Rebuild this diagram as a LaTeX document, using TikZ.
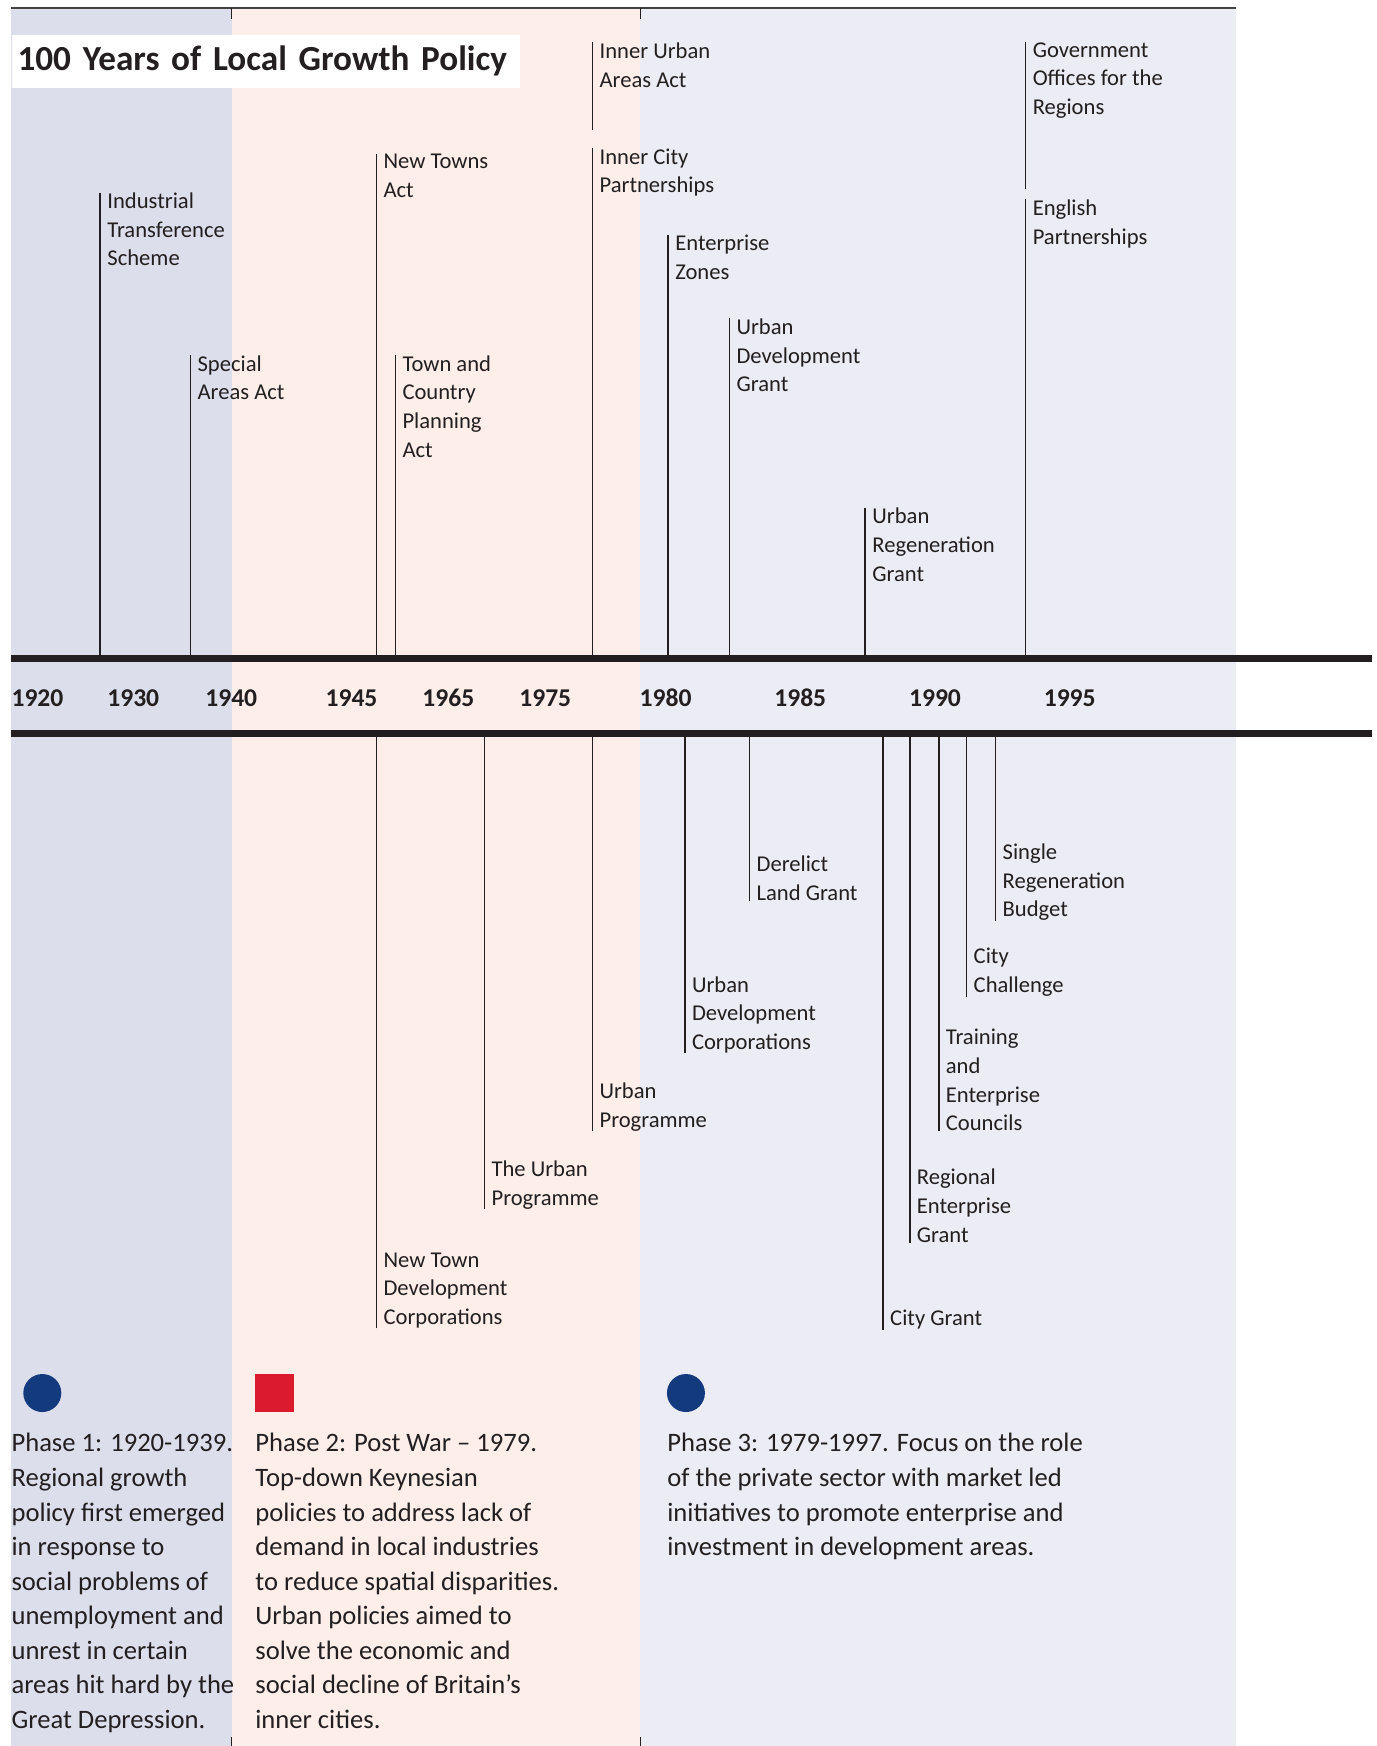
\documentclass[tikz,border=0pt]{standalone}
\usepackage{fontspec}
\setmainfont{Carlito}
\usepackage{xcolor}
\definecolor{bandA}{HTML}{DCDEEB}
\definecolor{bandB}{HTML}{FDEEEA}
\definecolor{bandC}{HTML}{EBECF4}
\definecolor{encre}{HTML}{231F20}
\definecolor{marine}{HTML}{143A7E}
\definecolor{rouge}{HTML}{DC1A2E}
\usetikzlibrary{positioning}
\tikzset{
	evtop/.style={anchor=north west,align=left,inner xsep=3.4pt,inner ysep=0pt,text=encre,font=\fontsize{11.3}{14.3}\selectfont},
	evbot/.style={evtop,anchor=south west},
	pole/.style={encre,line width=0.8pt},
	bar/.style={encre,line width=3.4pt},
	yr/.style={anchor=west,inner sep=0pt,text=encre,font=\fontsize{12.8}{12.8}\selectfont\bfseries},
	phase/.style={anchor=north west,align=left,inner sep=0pt,text=encre,font=\fontsize{13.3}{17.26}\selectfont},
	titre/.style={fill=white,anchor=west,minimum width=254pt,minimum height=26.5pt,text width=248pt,align=left,inner xsep=3pt,inner ysep=0pt,text=encre,font=\fontsize{17.6}{17.6}\selectfont\bfseries},
	dot/.style={circle,fill=marine,minimum size=19pt,inner sep=0pt},
	carre/.style={rectangle,fill=rouge,minimum size=19.4pt,inner sep=0pt}
}
\begin{document}
\begin{tikzpicture}[x=0.5567pt,y=-0.5567pt]
					\useasboundingbox (0,0) rectangle (1236,1568);
					\fill[bandA](10,7) rectangle (208,1568);
					\fill[bandB](208,7) rectangle (575,1568);
					\fill[bandC](575,7) rectangle (1110,1568);
					\draw[encre!85,line width=0.7pt](10,7)--(1110,7);
					\draw[encre,line width=0.6pt](208,7)--(208,17) (575,7)--(575,17);
					\draw[encre,line width=0.6pt](208,1560)--(208,1568) (575,1560)--(575,1568);
					\node[titre] (titre) at (10,55) {\mbox{100 Years of Local Growth Policy}};
					\coordinate (axA) at (10,591);
					\coordinate (axB) at (10,659);
					\draw[bar](axA)--(1232,591);
					\draw[bar](axB)--(1232,659);
					\node[yr] (y1920) at (10,627) {1920};
					\node[yr] (y1930) at (96,627) {1930};
					\node[yr] (y1940) at (184,627) {1940};
					\node[yr] (y1945) at (292,627) {1945};
					\node[yr] (y1965) at (379,627) {1965};
					\node[yr] (y1975) at (466,627) {1975};
					\node[yr] (y1980) at (574,627) {1980};
					\node[yr] (y1985) at (695,627) {1985};
					\node[yr] (y1990) at (816,627) {1990};
					\node[yr] (y1995) at (937,627) {1995};
					\node[evtop] (its) at (90,173) {Industrial\\Transference\\Scheme};
					\node[evtop] (sa) at (171,319) {Special\\Areas Act};
					\node[evtop] (nta) at (338,138) {New Towns\\Act};
					\node[evtop] (tcp) at (355,319) {Town and\\Country\\Planning\\Act};
					\node[evtop] (iua) at (532,38) {Inner Urban\\Areas Act};
					\node[evtop] (icp) at (532,133) {Inner City\\Partnerships};
					\node[evtop] (ez) at (600,211) {Enterprise\\Zones};
					\node[evtop] (udg) at (655,286) {Urban\\Development\\Grant};
					\node[evtop] (urg) at (777,456) {Urban\\Regeneration\\Grant};
					\node[evtop] (gor) at (921,38) {Government\\Offices for the\\Regions};
					\node[evtop] (ep) at (921,179) {English\\Partnerships};
					\foreach \n in {its,sa,nta,tcp,icp,ez,udg,urg,ep}
						\draw[pole](\n.north west)--(\n.north west |- axA);
					\draw[pole](iua.north west)--++(0,79);
					\draw[pole](gor.north west)--++(0,132);
					\node[evbot] (ntdc) at (338,1193) {New Town\\Development\\Corporations};
					\node[evbot] (tup) at (435,1086) {The Urban\\Programme};
					\node[evbot] (up) at (532,1016) {Urban\\Programme};
					\node[evbot] (udc) at (615,946) {Urban\\Development\\Corporations};
					\node[evbot] (dlg) at (673,809) {Derelict\\Land Grant};
					\node[evbot] (cg) at (793,1194) {City Grant};
					\node[evbot] (reg) at (817,1116) {Regional\\Enterprise\\Grant};
					\node[evbot] (tec) at (843,1016) {Training\\and\\Enterprise\\Councils};
					\node[evbot] (cc) at (868,895) {City\\Challenge};
					\node[evbot] (srb) at (894,827) {Single\\Regeneration\\Budget};
					\foreach \n in {ntdc,tup,up,udc,dlg,cg,reg,tec,cc,srb}
						\draw[pole](\n.south west)--(\n.south west |- axB);
					\node[dot] (d1) at (38,1251) {};
					\node[carre] (d2) at (246.5,1251) {};
					\node[dot] (d3) at (616,1251) {};
					\node[phase] (p1) at (10,1287) {Phase 1: 1920-1939.\\Regional growth\\policy first emerged\\in response to\\social problems of\\unemployment and\\unrest in certain\\areas hit hard by the\\Great Depression.};
					\node[phase] (p2) at (229,1287) {Phase 2: Post War -- 1979.\\Top-down Keynesian\\policies to address lack of\\demand in local industries\\to reduce spatial disparities.\\Urban policies aimed to\\solve the economic and\\social decline of Britain’s\\inner cities.};
					\node[phase] (p3) at (599,1287) {Phase 3: 1979-1997. Focus on the role\\of the private sector with market led\\initiatives to promote enterprise and\\investment in development areas.};
				\end{tikzpicture}
\end{document}
